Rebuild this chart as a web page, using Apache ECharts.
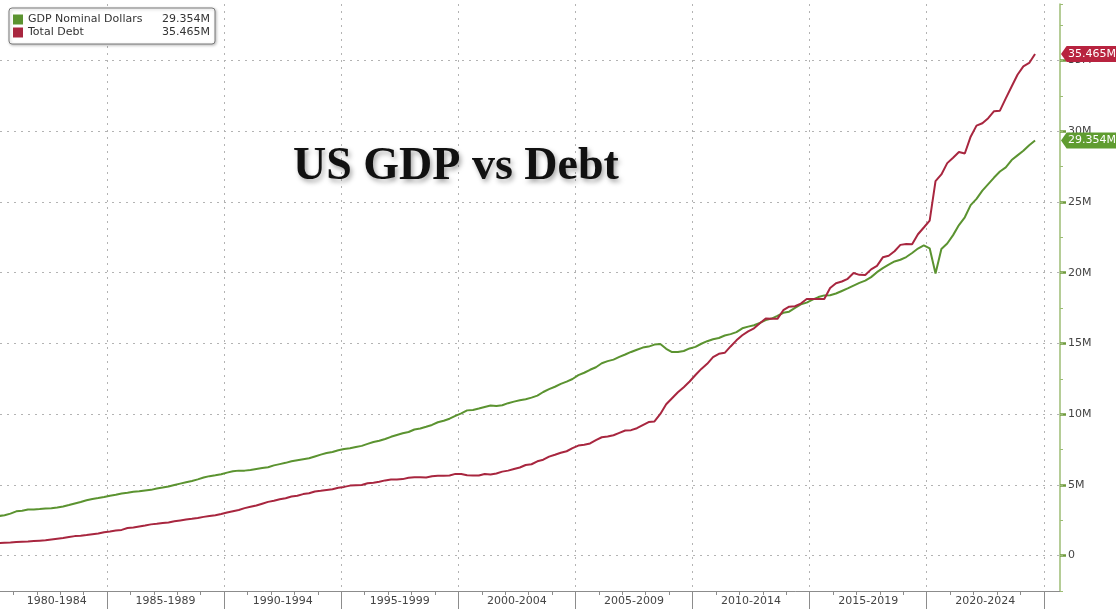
<!DOCTYPE html>
<html>
<head>
<meta charset="utf-8">
<script src="https://cdn.jsdelivr.net/npm/echarts@6/dist/echarts.min.js"></script>
<style>
  html, body { margin: 0; padding: 0; background: #ffffff; }
  #chart { width: 1116px; height: 610px; }
</style>
</head>
<body>
<div id="chart"></div>
<script>
// Quarterly series, 1980 Q1 onwards (trillions of US dollars, labelled "M")
const firstYear = 1980;

const gdpNominal = [
  2.81, 2.80, 2.85, 2.97,   // 1980
  3.13, 3.17, 3.26, 3.27,   // 1981
  3.29, 3.33, 3.35, 3.40,   // 1982
  3.48, 3.58, 3.69, 3.79,   // 1983
  3.91, 4.01, 4.07, 4.14,   // 1984
  4.24, 4.30, 4.39, 4.44,   // 1985
  4.51, 4.55, 4.61, 4.65,   // 1986
  4.74, 4.81, 4.89, 4.99,   // 1987
  5.09, 5.19, 5.28, 5.39,   // 1988
  5.52, 5.62, 5.68, 5.75,   // 1989
  5.87, 5.96, 6.01, 6.01,   // 1990
  6.06, 6.13, 6.19, 6.25,   // 1991
  6.38, 6.47, 6.56, 6.67,   // 1992
  6.74, 6.81, 6.88, 7.01,   // 1993
  7.14, 7.25, 7.33, 7.45,   // 1994
  7.54, 7.59, 7.68, 7.76,   // 1995
  7.90, 8.03, 8.12, 8.25,   // 1996
  8.40, 8.53, 8.65, 8.74,   // 1997
  8.92, 8.99, 9.11, 9.24,   // 1998
  9.43, 9.54, 9.68, 9.88,   // 1999
  10.06, 10.27, 10.30, 10.40, // 2000
  10.51, 10.61, 10.58, 10.63, // 2001
  10.78, 10.89, 10.98, 11.06, // 2002
  11.17, 11.31, 11.57, 11.77, // 2003
  11.94, 12.14, 12.30, 12.49, // 2004
  12.76, 12.93, 13.14, 13.32, // 2005
  13.60, 13.75, 13.86, 14.05, // 2006
  14.22, 14.40, 14.56, 14.71, // 2007
  14.78, 14.92, 14.96, 14.62, // 2008
  14.39, 14.39, 14.47, 14.65, // 2009
  14.76, 14.98, 15.16, 15.30, // 2010
  15.39, 15.56, 15.66, 15.80, // 2011
  16.07, 16.19, 16.29, 16.45, // 2012
  16.65, 16.76, 16.95, 17.17, // 2013
  17.25, 17.52, 17.77, 17.89, // 2014
  18.10, 18.28, 18.40, 18.41, // 2015
  18.53, 18.71, 18.89, 19.09, // 2016
  19.28, 19.44, 19.69, 20.04, // 2017
  20.33, 20.58, 20.80, 20.92, // 2018
  21.11, 21.40, 21.71, 21.93, // 2019
  21.73, 19.94, 21.68, 22.07, // 2020
  22.66, 23.37, 23.92, 24.78, // 2021
  25.22, 25.81, 26.27, 26.73, // 2022
  27.16, 27.45, 27.97, 28.30, // 2023
  28.62, 29.02, 29.354        // 2024
];

const totalDebt = [
  0.87, 0.88, 0.91, 0.93,   // 1980
  0.96, 0.98, 1.00, 1.03,   // 1981
  1.06, 1.08, 1.14, 1.20,   // 1982
  1.25, 1.32, 1.38, 1.41,   // 1983
  1.46, 1.52, 1.57, 1.66,   // 1984
  1.71, 1.77, 1.82, 1.95,   // 1985
  1.99, 2.06, 2.13, 2.21,   // 1986
  2.25, 2.31, 2.35, 2.43,   // 1987
  2.49, 2.55, 2.60, 2.66,   // 1988
  2.74, 2.80, 2.86, 2.95,   // 1989
  3.05, 3.14, 3.23, 3.36,   // 1990
  3.45, 3.54, 3.67, 3.80,   // 1991
  3.88, 3.98, 4.06, 4.18,   // 1992
  4.23, 4.35, 4.41, 4.54,   // 1993
  4.58, 4.64, 4.69, 4.80,   // 1994
  4.86, 4.95, 4.97, 4.99,   // 1995
  5.12, 5.16, 5.22, 5.32,   // 1996
  5.38, 5.38, 5.41, 5.50,   // 1997
  5.54, 5.55, 5.53, 5.61,   // 1998
  5.65, 5.64, 5.66, 5.78,   // 1999
  5.77, 5.69, 5.67, 5.66,   // 2000
  5.77, 5.73, 5.81, 5.94,   // 2001
  6.01, 6.13, 6.23, 6.41,   // 2002
  6.46, 6.67, 6.78, 7.00,   // 2003
  7.13, 7.27, 7.38, 7.60,   // 2004
  7.78, 7.84, 7.93, 8.17,   // 2005
  8.37, 8.42, 8.51, 8.68,   // 2006
  8.85, 8.87, 9.01, 9.23,   // 2007
  9.44, 9.49, 10.02, 10.70, // 2008
  11.13, 11.55, 11.91, 12.31, // 2009
  12.77, 13.20, 13.56, 14.03, // 2010
  14.27, 14.34, 14.79, 15.22, // 2011
  15.58, 15.86, 16.07, 16.43, // 2012
  16.77, 16.74, 16.74, 17.35, // 2013
  17.60, 17.63, 17.82, 18.14, // 2014
  18.15, 18.15, 18.15, 18.92, // 2015
  19.26, 19.38, 19.57, 19.98, // 2016
  19.85, 19.84, 20.24, 20.49, // 2017
  21.09, 21.20, 21.52, 21.97, // 2018
  22.03, 22.02, 22.72, 23.20, // 2019
  23.69, 26.48, 26.95, 27.75, // 2020
  28.13, 28.53, 28.43, 29.62, // 2021
  30.40, 30.57, 30.93, 31.42, // 2022
  31.46, 32.33, 33.17, 34.00, // 2023
  34.59, 34.83, 35.465        // 2024
];

// Bottom axis: five-year period bands
const periodLabels = ['1980-1984', '1985-1989', '1990-1994', '1995-1999', '2000-2004',
                      '2005-2009', '2010-2014', '2015-2019', '2020-2024'];
const periodLabelYears = [1982.85, 1987.5, 1992.5, 1997.5, 2002.5, 2007.5, 2012.5, 2017.5, 2022.5];
const periodBreaks = [1985, 1990, 1995, 2000, 2005, 2010, 2015, 2020, 2025];
const yearTicks = [1981, 1982, 1983, 1984, 1985, 1986, 1987, 1988, 1989, 1990, 1991, 1992,
                   1993, 1994, 1995, 1996, 1997, 1998, 1999, 2000, 2001, 2002, 2003, 2004,
                   2005, 2006, 2007, 2008, 2009, 2010, 2011, 2012, 2013, 2014, 2015, 2016,
                   2017, 2018, 2019, 2020, 2021, 2022, 2023, 2024, 2025];

// Right axis
const valueTicks = [0, 5, 10, 15, 20, 25, 30, 35];

const seriesNames = ['GDP Nominal Dollars', 'Total Debt'];
const seriesColors = ['#5b9330', '#a8263f'];
const tagColors = ['#5f9c30', '#b8233f'];

const X_MIN = 1980.43, X_MAX = 2025.69;
const Y_MIN = -2.5, Y_MAX = 39;

function toPoints(values) {
  return values.map((v, i) => [firstYear + i / 4 + 0.125, v]);
}
function fmtM(v) { return v.toFixed(3) + 'M'; }

const allSeries = [gdpNominal, totalDebt];
const lastValues = allSeries.map(s => s[s.length - 1]);

const smallFont = 'DejaVu Sans';
const gridDots = { color: '#b3b3b3', width: 1, type: [2, 5] };

const chart = echarts.init(document.getElementById('chart'), null, { renderer: 'canvas' });

chart.setOption({
  backgroundColor: '#ffffff',
  animation: false,
  title: {
    text: 'US GDP vs Debt',
    left: 288,
    top: 139,
    textStyle: {
      fontFamily: 'Liberation Serif',
      fontWeight: 'bold',
      fontSize: 46,
      color: '#111111',
      textShadowColor: 'rgba(0,0,0,0.35)',
      textShadowBlur: 5,
      textShadowOffsetX: 2,
      textShadowOffsetY: 3
    }
  },
  legend: {
    orient: 'vertical',
    left: 9,
    top: 8,
    padding: [6, 5, 6, 4],
    itemGap: 2,
    itemWidth: 10,
    itemHeight: 10,
    icon: 'rect',
    backgroundColor: '#ffffff',
    borderColor: '#7a7a7a',
    borderWidth: 1,
    borderRadius: 3,
    shadowColor: 'rgba(0,0,0,0.25)',
    shadowBlur: 3,
    shadowOffsetX: 1,
    shadowOffsetY: 1,
    selectedMode: false,
    data: seriesNames,
    formatter: name => {
      const idx = seriesNames.indexOf(name);
      return '{n|' + name + '}{v|' + fmtM(lastValues[idx]) + '}';
    },
    textStyle: {
      fontFamily: smallFont,
      fontSize: 11,
      color: '#333333',
      rich: {
        n: { width: 132, fontFamily: smallFont, fontSize: 11, color: '#333333' },
        v: { width: 50, align: 'right', fontFamily: smallFont, fontSize: 11, color: '#333333' }
      }
    }
  },
  grid: { left: 0, right: 56, top: 4, bottom: 19, containLabel: false },
  xAxis: [
    {
      type: 'value',
      position: 'bottom',
      min: X_MIN,
      max: X_MAX,
      axisLine: { show: true, onZero: false, lineStyle: { color: '#8c8c8c', width: 1 } },
      axisTick: { show: true, customValues: periodBreaks, length: 18, lineStyle: { color: '#8c8c8c' } },
      axisLabel: {
        show: true,
        customValues: periodLabelYears,
        margin: 5,
        fontFamily: smallFont,
        fontSize: 11,
        color: '#444444',
        formatter: v => {
          const i = periodLabelYears.findIndex(p => Math.abs(p - v) < 0.01);
          return i >= 0 ? periodLabels[i] : '';
        }
      },
      splitLine: { show: true, lineStyle: gridDots }
    },
    {
      type: 'value',
      position: 'bottom',
      min: X_MIN,
      max: X_MAX,
      axisLine: { show: false, onZero: false },
      axisTick: { show: true, customValues: yearTicks, length: 4, lineStyle: { color: '#8c8c8c' } },
      axisLabel: { show: false },
      splitLine: { show: false }
    }
  ],
  yAxis: [
    {
      type: 'value',
      position: 'right',
      min: Y_MIN,
      max: Y_MAX,
      axisLine: { show: true, onZero: false, lineStyle: { color: '#9dbd74', width: 1.5 } },
      axisTick: { show: true, customValues: valueTicks, length: 6, lineStyle: { color: '#6f9a3c', width: 2.5 } },
      axisLabel: {
        show: true,
        customValues: valueTicks,
        margin: 8,
        fontFamily: smallFont,
        fontSize: 11,
        color: '#444444',
        formatter: v => (v === 0 ? '0' : v + 'M')
      },
      splitLine: { show: true, lineStyle: gridDots }
    },
    {
      type: 'value',
      position: 'right',
      min: Y_MIN,
      max: Y_MAX,
      interval: 2.5,
      axisLine: { show: false, onZero: false },
      axisTick: { show: true, length: 3, lineStyle: { color: '#9dbd74' } },
      axisLabel: { show: false },
      splitLine: { show: false }
    }
  ],
  series: allSeries.map((values, k) => ({
    name: seriesNames[k],
    type: 'line',
    xAxisIndex: 0,
    yAxisIndex: 0,
    showSymbol: false,
    symbol: 'none',
    clip: true,
    data: toPoints(values),
    lineStyle: { color: seriesColors[k], width: 2 },
    itemStyle: { color: seriesColors[k] },
    z: 3 + k,
    markPoint: {
      silent: true,
      symbol: 'path://M0,8 L6,0 L60,0 L60,16 L6,16 Z',
      symbolSize: [56, 16],
      symbolKeepAspect: false,
      symbolOffset: [29, 0],
      itemStyle: { color: tagColors[k] },
      label: {
        show: true,
        position: 'inside',
        offset: [3, 0],
        color: '#ffffff',
        fontFamily: smallFont,
        fontSize: 11,
        formatter: () => fmtM(lastValues[k])
      },
      data: [{ coord: [X_MAX, lastValues[k]] }]
    }
  }))
});
</script>
</body>
</html>
